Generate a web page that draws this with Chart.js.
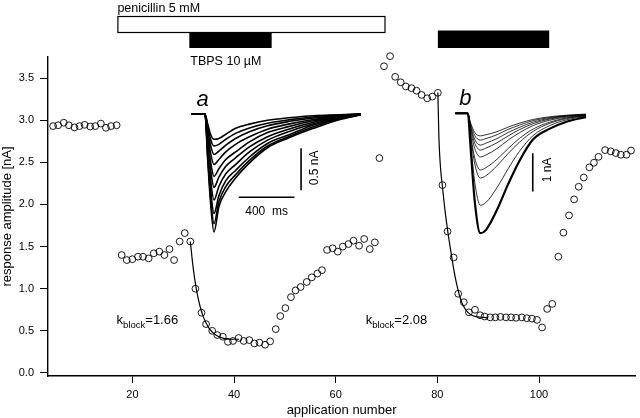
<!DOCTYPE html>
<html>
<head>
<meta charset="utf-8">
<style>
  html, body { margin: 0; padding: 0; background: #fff; }
  #wrap { width: 640px; height: 418px; }
</style>
<script src="https://cdn.jsdelivr.net/npm/chart.js@4.4.1/dist/chart.umd.min.js"></script>
</head>
<body>
<div id="wrap"><canvas id="ampChart" width="640" height="418"></canvas></div>
<script>
const FONT = '"Liberation Sans", Arial, Helvetica, sans-serif';
Chart.defaults.font.family = FONT;
Chart.defaults.color = '#000000';
Chart.defaults.borderColor = '#000000';

// response amplitudes, grouped by phase of the experiment
const controlX = [4.4, 5.4, 6.5, 7.5, 8.6, 9.6, 10.6, 11.7, 12.7, 13.8, 14.8, 15.8, 16.9];
const controlY = [2.93, 2.94, 2.97, 2.94, 2.915, 2.93, 2.945, 2.925, 2.93, 2.96, 2.91, 2.93, 2.94];

const penicillinX = [17.9, 18.9, 20.0, 21.1, 22.1, 23.2, 24.2, 25.3, 26.3, 27.3, 28.2, 29.3, 30.3, 31.4];
const penicillinY = [1.40, 1.34, 1.35, 1.38, 1.38, 1.36, 1.42, 1.44, 1.40, 1.47, 1.34, 1.56, 1.66, 1.56];

const tbpsAX = [32.4, 33.6, 34.5, 35.7, 36.7, 37.8, 38.8, 39.8, 40.9, 41.9, 43.0, 44.0, 45.0, 46.1, 47.1,
  48.2, 49.1, 50.1, 51.2, 52.1, 53.1, 54.3, 55.3, 56.4, 57.3];
const tbpsAY = [1.00, 0.715, 0.58, 0.50, 0.45, 0.43, 0.37, 0.38, 0.415, 0.38, 0.39, 0.35, 0.36, 0.335, 0.375,
  0.52, 0.675, 0.77, 0.90, 0.98, 1.02, 1.08, 1.135, 1.18, 1.22];

const washX = [58.3, 59.4, 60.4, 61.4, 62.5, 63.5, 64.6, 65.6, 66.7, 67.7, 68.6, 69.5, 70.7, 71.7,
  72.8, 73.8, 74.9, 75.9, 76.9, 78.0, 79.0, 80.1];
const washY = [1.46, 1.48, 1.44, 1.50, 1.53, 1.57, 1.51, 1.59, 1.47, 1.55, 2.55, 3.64, 3.76, 3.515,
  3.45, 3.40, 3.38, 3.35, 3.30, 3.26, 3.28, 3.325];

const tbpsBX = [81.0, 82.0, 83.2, 84.1, 85.2, 86.2, 87.4, 88.4, 89.3, 90.4, 91.4, 92.4, 93.5, 94.5,
  95.5, 96.6, 97.6, 98.6, 99.6, 100.6, 101.6, 102.6];
const tbpsBY = [2.23, 1.68, 1.37, 0.94, 0.84, 0.72, 0.75, 0.685, 0.67, 0.66, 0.66, 0.665, 0.66, 0.66,
  0.655, 0.66, 0.65, 0.645, 0.63, 0.54, 0.76, 0.82];

const recoveryX = [103.8, 104.8, 105.9, 106.9, 107.8, 108.8, 109.9, 110.8, 111.7, 113.0, 114.1, 115.1, 116.1, 117.2, 118.1];
const recoveryY = [1.38, 1.665, 1.87, 2.06, 2.21, 2.32, 2.44, 2.495, 2.565, 2.645, 2.63, 2.61, 2.59, 2.59, 2.64];

// fitted block time courses
const fitAX = [31.4, 31.8, 32.2, 32.6, 33.0, 33.5, 34.0, 34.6, 35.2, 36.0, 37.0, 38.0, 39.0, 40.0, 41.0];
const fitAY = [1.56, 1.33, 1.14, 0.99, 0.87, 0.75, 0.66, 0.58, 0.52, 0.47, 0.43, 0.41, 0.40, 0.40, 0.40];
const fitBX = [80.1, 80.3, 80.6, 81.0, 81.5, 82.0, 82.5, 83.0, 83.5, 84.0, 84.5, 85.0, 86.0, 87.0, 88.0, 89.0, 90.0];
const fitBY = [3.33, 2.80, 2.45, 2.21, 1.93, 1.70, 1.50, 1.31, 1.14, 1.00, 0.89, 0.81, 0.72, 0.68, 0.665, 0.66, 0.655];
const kBlockValues = ['1.66', '2.08'];

// inset current traces (ms, nA)
const insetATimes = [0, 100, 120, 140, 165, 200, 250, 320, 420, 550, 700, 880, 1060, 1220];
const insetASweeps = [
  [0, 0, -0.12, -0.24, -0.30, -0.29, -0.24, -0.17, -0.12, -0.075, -0.045, -0.02, -0.01, 0],
  [0, 0, -0.15, -0.30, -0.38, -0.36, -0.30, -0.23, -0.165, -0.11, -0.07, -0.035, -0.015, 0],
  [0, 0, -0.19, -0.37, -0.48, -0.44, -0.37, -0.29, -0.21, -0.14, -0.09, -0.048, -0.02, 0],
  [0, 0, -0.24, -0.46, -0.60, -0.54, -0.45, -0.36, -0.27, -0.18, -0.12, -0.065, -0.025, -0.005],
  [0, 0, -0.29, -0.56, -0.74, -0.65, -0.54, -0.45, -0.33, -0.22, -0.15, -0.08, -0.035, -0.005],
  [0, 0, -0.34, -0.65, -0.87, -0.75, -0.62, -0.52, -0.39, -0.27, -0.18, -0.097, -0.04, -0.005],
  [0, 0, -0.40, -0.77, -1.02, -0.86, -0.71, -0.60, -0.45, -0.31, -0.21, -0.115, -0.05, -0.01],
  [0, 0, -0.46, -0.88, -1.18, -0.97, -0.79, -0.67, -0.51, -0.35, -0.25, -0.13, -0.055, -0.01],
  [0, 0, -0.51, -0.97, -1.30, -1.04, -0.86, -0.72, -0.55, -0.38, -0.27, -0.15, -0.06, -0.01],
  [0, 0, -0.55, -1.05, -1.40, -1.10, -0.92, -0.76, -0.58, -0.40, -0.285, -0.17, -0.07, -0.01],
];
const insetBTimes = [0, 90, 110, 140, 180, 220, 300, 380, 460, 560, 680, 800, 940];
const insetBSweeps = [
  [0, 0, -0.25, -0.50, -0.59, -0.56, -0.48, -0.36, -0.26, -0.16, -0.09, -0.05, -0.02],
  [0, 0, -0.29, -0.58, -0.70, -0.66, -0.56, -0.42, -0.31, -0.19, -0.11, -0.06, -0.03],
  [0, 0, -0.34, -0.68, -0.83, -0.78, -0.66, -0.50, -0.37, -0.23, -0.13, -0.07, -0.03],
  [0, 0, -0.38, -0.78, -0.96, -0.91, -0.77, -0.59, -0.43, -0.27, -0.15, -0.08, -0.04],
  [0, 0, -0.44, -0.92, -1.14, -1.09, -0.92, -0.70, -0.51, -0.32, -0.18, -0.10, -0.05],
  [0, 0, -0.55, -1.17, -1.48, -1.42, -1.20, -0.92, -0.66, -0.41, -0.23, -0.12, -0.06],
  [0, 0, -0.60, -1.32, -1.69, -1.63, -1.37, -1.05, -0.76, -0.47, -0.26, -0.14, -0.06],
  [0, 0, -0.75, -1.80, -2.40, -2.33, -1.94, -1.45, -1.00, -0.58, -0.32, -0.17, -0.08],
  [0, 0, -0.90, -2.30, -3.13, -3.05, -2.52, -1.85, -1.25, -0.68, -0.40, -0.22, -0.10],
];
const timeBarMs = 400;
const currentBarA = 0.5;
const currentBarB = 1;

// drug applications (application numbers)
const penicillinSpan = [17.05, 69.6];
const tbpsSpans = [[31.2, 47.4], [80.1, 102.0]];

const xTicks = [20, 40, 60, 80, 100];
const yTicks = [0, 0.5, 1.0, 1.5, 2.0, 2.5, 3.0, 3.5];

const toPoints = (xs, ys) => xs.map((x, i) => ({ x, y: ys[i] }));

const amplitudePoints = [
  ...toPoints(controlX, controlY),
  ...toPoints(penicillinX, penicillinY),
  ...toPoints(tbpsAX, tbpsAY),
  ...toPoints(washX, washY),
  ...toPoints(tbpsBX, tbpsBY),
  ...toPoints(recoveryX, recoveryY),
];

const traceSet = (times, sweeps, xAxisID, yAxisID, widthFor) => sweeps.map((sw, i) => ({
  data: toPoints(times, sw),
  xAxisID,
  yAxisID,
  showLine: true,
  pointRadius: 0,
  borderColor: '#000000',
  borderWidth: widthFor(i),
  cubicInterpolationMode: 'monotone',
}));

const datasets = [
  {
    data: amplitudePoints,
    showLine: false,
    clip: false,
    pointRadius: 3.4,
    pointBorderWidth: 0.9,
    pointBorderColor: '#000000',
    pointBackgroundColor: 'rgba(255,255,255,0)',
  },
  {
    data: toPoints(fitAX, fitAY),
    showLine: true, pointRadius: 0, borderColor: '#000000', borderWidth: 1.2,
    cubicInterpolationMode: 'monotone',
  },
  {
    data: toPoints(fitBX, fitBY),
    showLine: true, pointRadius: 0, borderColor: '#000000', borderWidth: 1.2,
    cubicInterpolationMode: 'monotone',
  },
  ...traceSet(insetATimes, insetASweeps, 'xa', 'ya', () => 1.6),
  ...traceSet(insetBTimes, insetBSweeps, 'xb', 'yb', (i) => (i === insetBSweeps.length - 1 ? 2.2 : 0.8)),
];

const decorations = {
  id: 'decorations',
  beforeDraw(chart) {
    const { ctx } = chart;
    ctx.save();
    ctx.fillStyle = '#ffffff';
    ctx.fillRect(0, 0, chart.width, chart.height);
    ctx.restore();
  },
  afterDatasetsDraw(chart) {
    const { ctx, scales } = chart;
    const { x, y, xa, ya, xb, yb } = scales;
    ctx.save();
    ctx.fillStyle = '#000000';
    ctx.strokeStyle = '#000000';

    // application bars
    const p0 = x.getPixelForValue(penicillinSpan[0]);
    const p1 = x.getPixelForValue(penicillinSpan[1]);
    ctx.lineWidth = 1.2;
    ctx.fillStyle = '#ffffff';
    ctx.fillRect(p0, 16, p1 - p0, 16);
    ctx.strokeRect(p0 + 0.5, 16.5, p1 - p0, 16);
    ctx.fillStyle = '#000000';
    const t0 = x.getPixelForValue(tbpsSpans[0][0]);
    const t1 = x.getPixelForValue(tbpsSpans[0][1]);
    ctx.fillRect(t0, 32, t1 - t0, 16);
    const r0 = x.getPixelForValue(tbpsSpans[1][0]);
    const r1 = x.getPixelForValue(tbpsSpans[1][1]);
    ctx.fillRect(r0, 30.5, r1 - r0, 17.5);

    ctx.font = '12.5px ' + FONT;
    ctx.textAlign = 'left';
    ctx.textBaseline = 'alphabetic';
    ctx.fillText('penicillin 5 mM', p0, 12);
    ctx.fillText('TBPS 10 \u00b5M', t0 + 1, 65);

    // k_block labels
    const drawK = (xv, yv, val) => {
      let px = x.getPixelForValue(xv);
      const py = y.getPixelForValue(yv);
      ctx.font = '13px ' + FONT;
      ctx.fillText('k', px, py);
      px += ctx.measureText('k').width;
      ctx.font = '9.5px ' + FONT;
      ctx.fillText('block', px, py + 4);
      px += ctx.measureText('block').width;
      ctx.font = '13px ' + FONT;
      ctx.fillText('=' + val, px, py);
    };
    drawK(16.9, 0.58, kBlockValues[0]);
    drawK(65.9, 0.58, kBlockValues[1]);

    // inset labels
    ctx.font = 'italic 22px ' + FONT;
    ctx.fillText('a', xa.getPixelForValue(40), ya.getPixelForValue(0.095));
    ctx.fillText('b', xb.getPixelForValue(28), yb.getPixelForValue(0.22));

    // scale bars
    ctx.lineWidth = 1.6;
    ctx.beginPath();
    const bx0 = xa.getPixelForValue(343);
    const bx1 = xa.getPixelForValue(343 + timeBarMs);
    const by = ya.getPixelForValue(-0.988);
    ctx.moveTo(bx0, by); ctx.lineTo(bx1, by);
    const vx = xa.getPixelForValue(791);
    ctx.moveTo(vx, ya.getPixelForValue(-0.405));
    ctx.lineTo(vx, ya.getPixelForValue(-0.405 - currentBarA));
    const wx = xb.getPixelForValue(557);
    ctx.moveTo(wx, yb.getPixelForValue(-1.044));
    ctx.lineTo(wx, yb.getPixelForValue(-1.044 - currentBarB));
    ctx.stroke();

    ctx.font = '12px ' + FONT;
    ctx.textAlign = 'center';
    ctx.fillText(timeBarMs + '  ms', (bx0 + bx1) / 2, by + 18);
    ctx.textBaseline = 'middle';
    const vertical = (text, px, py) => {
      ctx.save();
      ctx.translate(px, py);
      ctx.rotate(-Math.PI / 2);
      ctx.fillText(text, 0, 0);
      ctx.restore();
    };
    vertical(currentBarA + ' nA', vx + 14, ya.getPixelForValue(-0.64));
    vertical(currentBarB + ' nA', wx + 15, yb.getPixelForValue(-1.48));
    ctx.restore();
  },
};

const ctx = document.getElementById('ampChart').getContext('2d');
const ampChart = new Chart(ctx, {
  type: 'scatter',
  data: { datasets },
  options: {
    responsive: false,
    animation: false,
    devicePixelRatio: 1,
    layout: { padding: { top: 57, right: 1, left: 0, bottom: 0 } },
    plugins: { legend: { display: false }, tooltip: { enabled: false } },
    scales: {
      x: {
        type: 'linear',
        min: 3.4,
        max: 118.9,
        afterBuildTicks: (scale) => { scale.ticks = xTicks.map((v) => ({ value: v })); },
        afterFit: (scale) => { scale.height = 42; },
        grid: { drawOnChartArea: false, tickLength: 7, color: '#000000', lineWidth: 1 },
        border: { display: true, color: '#000000', width: 1.4 },
        ticks: { font: { size: 11 }, padding: 5, maxRotation: 0 },
        title: { display: true, text: 'application number', font: { size: 13 }, padding: 0 },
      },
      y: {
        type: 'linear',
        min: -0.036,
        max: 3.75,
        afterBuildTicks: (scale) => { scale.ticks = yTicks.map((v) => ({ value: v })); },
        afterFit: (scale) => { scale.width = 48; },
        grid: { drawOnChartArea: false, tickLength: 8, color: '#000000', lineWidth: 1 },
        border: { display: true, color: '#000000', width: 1.4 },
        ticks: { font: { size: 11 }, padding: 6, callback: (v) => Number(v).toFixed(1) },
        title: { display: true, text: 'response amplitude [nA]', font: { size: 13 }, padding: 0 },
      },
      xa: { type: 'linear', display: false, min: -1028.6, max: 3192.9 },
      ya: { type: 'linear', display: false, min: -3.108, max: 0.676 },
      xb: { type: 'linear', display: false, min: -2928.6, max: 1292.9 },
      yb: { type: 'linear', display: false, min: -6.859, max: 1.470 },
    },
  },
  plugins: [decorations],
});
</script>
</body>
</html>
